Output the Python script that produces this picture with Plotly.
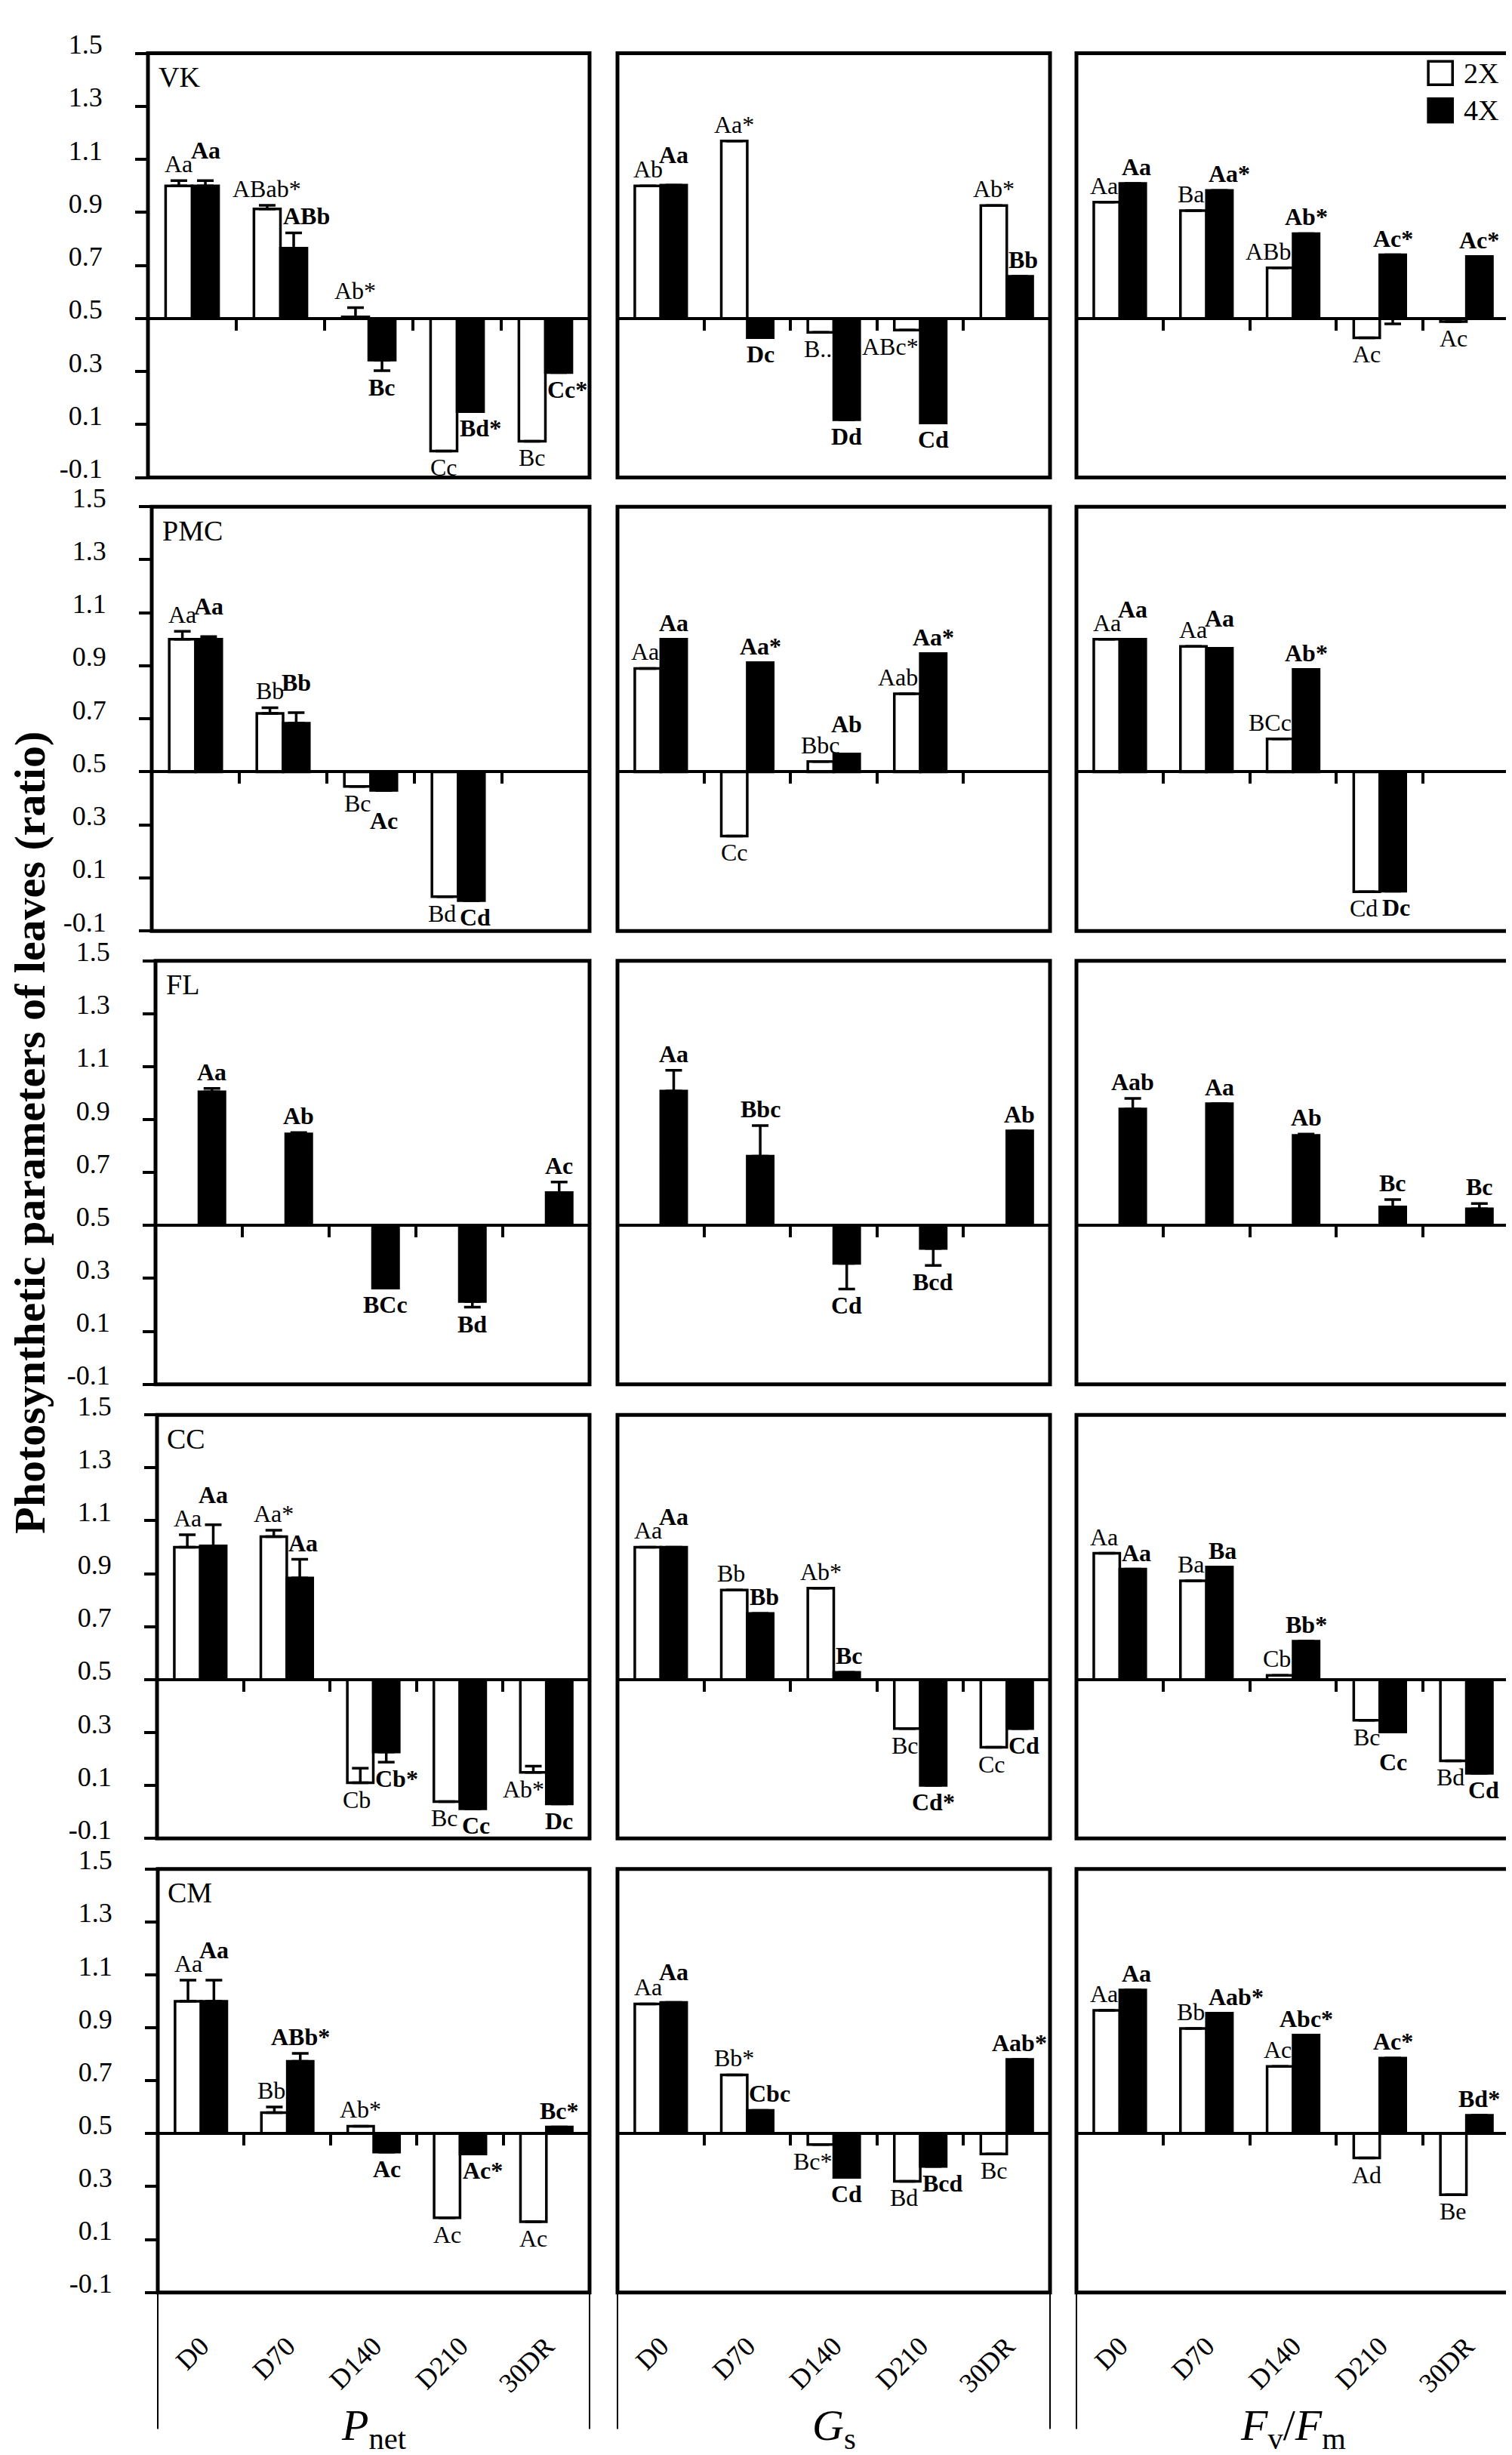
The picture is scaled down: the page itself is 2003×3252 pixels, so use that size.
"""
Photosynthetic parameters of leaves (ratio to D0) for five cultivars,
2X vs 4X, drought series D0..D210 plus 30 d rewatering (30DR).

Bars hang off a 0.5 baseline; letters above/below each bar are the
significance groups (2X regular, 4X bold). Writes out.html.
"""

import plotly.graph_objects as go

CATEGORIES = ["D0", "D70", "D140", "D210", "30DR"]
CULTIVARS = ["VK", "PMC", "FL", "CC", "CM"]
PARAM_TITLES = [
    "<i>P</i><sub>net</sub>",
    "<i>G</i><sub>s</sub>",
    "<i>F</i><sub>v</sub>/<i>F</i><sub>m</sub>",
]
Y_TICKVALS = [-0.1, 0.1, 0.3, 0.5, 0.7, 0.9, 1.1, 1.3, 1.5]
Y_TICKTEXT = ["-0.1", "0.1", "0.3", "0.5", "0.7", "0.9", "1.1", "1.3", "1.5"]

# Values. *_ERR is signed: + drawn upwards, - drawn downwards.
# ---- VK
VK_PNET_2X = [1.00, 0.913, 0.506, 0.0, 0.037]
VK_PNET_2X_ERR = [0.02, 0.014, 0.035, 0, 0]
VK_PNET_2X_LAB = ["Aa", "ABab*", "Ab*", "Cc", "Bc"]
VK_PNET_4X = [1.00, 0.765, 0.343, 0.149, 0.296]
VK_PNET_4X_ERR = [0.02, 0.058, -0.04, 0, 0]
VK_PNET_4X_LAB = ["Aa", "ABb", "Bc", "Bd*", "Cc*"]

VK_GS_2X = [1.00, 1.169, 0.448, 0.456, 0.926]
VK_GS_2X_ERR = [0, 0, 0, 0, 0]
VK_GS_2X_LAB = ["Ab", "Aa*", "B..", "ABc*", "Ab*"]
VK_GS_4X = [1.003, 0.428, 0.118, 0.106, 0.659]
VK_GS_4X_ERR = [0, 0, 0, 0, 0]
VK_GS_4X_LAB = ["Aa", "Dc", "Dd", "Cd", "Bb"]

VK_FV_2X = [0.939, 0.907, 0.691, 0.427, 0.488]
VK_FV_2X_ERR = [0, 0, 0, 0, 0]
VK_FV_2X_LAB = ["Aa", "Ba", "ABb", "Ac", "Ac"]
VK_FV_4X = [1.009, 0.983, 0.82, 0.74, 0.734]
VK_FV_4X_ERR = [0, 0, 0, -0.26, 0]
VK_FV_4X_LAB = ["Aa", "Aa*", "Ab*", "Ac*", "Ac*"]

# ---- PMC (no 30DR)
PMC_PNET_2X = [1.00, 0.72, 0.445, 0.029, None]
PMC_PNET_2X_ERR = [0.03, 0.022, 0, 0, 0]
PMC_PNET_2X_LAB = ["Aa", "Bb", "Bc", "Bd", ""]
PMC_PNET_4X = [1.00, 0.683, 0.43, 0.014, None]
PMC_PNET_4X_ERR = [0.01, 0.04, 0, 0, 0]
PMC_PNET_4X_LAB = ["Aa", "Bb", "Ac", "Cd", ""]

PMC_GS_2X = [0.89, 0.258, 0.539, 0.794, None]
PMC_GS_2X_ERR = [0, 0, 0, 0, 0]
PMC_GS_2X_LAB = ["Aa", "Cc", "Bbc", "Aab", ""]
PMC_GS_4X = [1.00, 0.912, 0.567, 0.946, None]
PMC_GS_4X_ERR = [0, 0, 0, 0, 0]
PMC_GS_4X_LAB = ["Aa", "Aa*", "Ab", "Aa*", ""]

PMC_FV_2X = [1.00, 0.973, 0.624, 0.048, None]
PMC_FV_2X_ERR = [0, 0, 0, 0, 0]
PMC_FV_2X_LAB = ["Aa", "Aa", "BCc", "Cd", ""]
PMC_FV_4X = [1.00, 0.966, 0.886, 0.05, None]
PMC_FV_4X_ERR = [0, 0, 0, 0, 0]
PMC_FV_4X_LAB = ["Aa", "Aa", "Ab*", "Dc", ""]

# ---- FL (4X only)
FL_PNET_2X = [None, None, None, None, None]
FL_PNET_2X_ERR = [0, 0, 0, 0, 0]
FL_PNET_2X_LAB = ["", "", "", "", ""]
FL_PNET_4X = [1.005, 0.846, 0.263, 0.213, 0.624]
FL_PNET_4X_ERR = [0.013, 0.005, 0, -0.022, 0.04]
FL_PNET_4X_LAB = ["Aa", "Ab", "BCc", "Bd", "Ac"]

FL_GS_2X = [None, None, None, None, None]
FL_GS_2X_ERR = [0, 0, 0, 0, 0]
FL_GS_2X_LAB = ["", "", "", "", ""]
FL_GS_4X = [1.008, 0.762, 0.357, 0.413, 0.857]
FL_GS_4X_ERR = [0.078, 0.115, -0.097, -0.064, 0]
FL_GS_4X_LAB = ["Aa", "Bbc", "Cd", "Bcd", "Ab"]

FL_FV_2X = [None, None, None, None, None]
FL_FV_2X_ERR = [0, 0, 0, 0, 0]
FL_FV_2X_LAB = ["", "", "", "", ""]
FL_FV_4X = [0.94, 0.96, 0.84, 0.57, 0.563]
FL_FV_4X_ERR = [0.04, 0, 0.005, 0.028, 0.02]
FL_FV_4X_LAB = ["Aab", "Aa", "Ab", "Bc", "Bc"]

# ---- CC
CC_PNET_2X = [1.00, 1.04, 0.11, 0.039, 0.149]
CC_PNET_2X_ERR = [0.047, 0.024, 0.055, 0, 0.024]
CC_PNET_2X_LAB = ["Aa", "Aa*", "Cb", "Bc", "Ab*"]
CC_PNET_4X = [1.005, 0.884, 0.226, 0.012, 0.03]
CC_PNET_4X_ERR = [0.08, 0.07, -0.038, 0, 0]
CC_PNET_4X_LAB = ["Aa", "Aa", "Cb*", "Cc", "Dc"]

CC_GS_2X = [1.00, 0.838, 0.845, 0.315, 0.244]
CC_GS_2X_ERR = [0, 0, 0, 0, 0]
CC_GS_2X_LAB = ["Aa", "Bb", "Ab*", "Bc", "Cc"]
CC_GS_4X = [1.00, 0.75, 0.527, 0.10, 0.315]
CC_GS_4X_ERR = [0, 0, 0, 0, 0]
CC_GS_4X_LAB = ["Aa", "Bb", "Bc", "Cd*", "Cd"]

CC_FV_2X = [0.977, 0.873, 0.516, 0.346, 0.193]
CC_FV_2X_ERR = [0, 0, 0, 0, 0]
CC_FV_2X_LAB = ["Aa", "Ba", "Cb", "Bc", "Bd"]
CC_FV_4X = [0.917, 0.925, 0.645, 0.302, 0.146]
CC_FV_4X_ERR = [0, 0, 0, 0, 0]
CC_FV_4X_LAB = ["Aa", "Ba", "Bb*", "Cc", "Cd"]

# ---- CM
CM_PNET_2X = [1.00, 0.579, 0.528, 0.182, 0.167]
CM_PNET_2X_ERR = [0.08, 0.022, 0, 0, 0]
CM_PNET_2X_LAB = ["Aa", "Bb", "Ab*", "Ac", "Ac"]
CM_PNET_4X = [1.00, 0.773, 0.43, 0.423, 0.525]
CM_PNET_4X_ERR = [0.08, 0.03, 0, 0, 0]
CM_PNET_4X_LAB = ["Aa", "ABb*", "Ac", "Ac*", "Bc*"]

CM_GS_2X = [0.99, 0.722, 0.459, 0.32, 0.423]
CM_GS_2X_ERR = [0, 0, 0, 0, 0]
CM_GS_2X_LAB = ["Aa", "Bb*", "Bc*", "Bd", "Bc"]
CM_GS_4X = [0.996, 0.588, 0.335, 0.376, 0.78]
CM_GS_4X_ERR = [0, 0, 0, 0, 0]
CM_GS_4X_LAB = ["Aa", "Cbc", "Cd", "Bcd", "Aab*"]

CM_FV_2X = [0.966, 0.897, 0.754, 0.408, 0.269]
CM_FV_2X_ERR = [0, 0, 0, 0, 0]
CM_FV_2X_LAB = ["Aa", "Bb", "Ac", "Ad", "Be"]
CM_FV_4X = [1.043, 0.955, 0.872, 0.785, 0.569]
CM_FV_4X_ERR = [0, 0, 0, 0, 0]
CM_FV_4X_LAB = ["Aa", "Aab*", "Abc*", "Ac*", "Bd*"]

# rows = cultivars, columns = Pnet / Gs / Fv/Fm
PANELS = [
    [(VK_PNET_2X, VK_PNET_2X_ERR, VK_PNET_2X_LAB, VK_PNET_4X, VK_PNET_4X_ERR, VK_PNET_4X_LAB),
     (VK_GS_2X, VK_GS_2X_ERR, VK_GS_2X_LAB, VK_GS_4X, VK_GS_4X_ERR, VK_GS_4X_LAB),
     (VK_FV_2X, VK_FV_2X_ERR, VK_FV_2X_LAB, VK_FV_4X, VK_FV_4X_ERR, VK_FV_4X_LAB)],
    [(PMC_PNET_2X, PMC_PNET_2X_ERR, PMC_PNET_2X_LAB, PMC_PNET_4X, PMC_PNET_4X_ERR, PMC_PNET_4X_LAB),
     (PMC_GS_2X, PMC_GS_2X_ERR, PMC_GS_2X_LAB, PMC_GS_4X, PMC_GS_4X_ERR, PMC_GS_4X_LAB),
     (PMC_FV_2X, PMC_FV_2X_ERR, PMC_FV_2X_LAB, PMC_FV_4X, PMC_FV_4X_ERR, PMC_FV_4X_LAB)],
    [(FL_PNET_2X, FL_PNET_2X_ERR, FL_PNET_2X_LAB, FL_PNET_4X, FL_PNET_4X_ERR, FL_PNET_4X_LAB),
     (FL_GS_2X, FL_GS_2X_ERR, FL_GS_2X_LAB, FL_GS_4X, FL_GS_4X_ERR, FL_GS_4X_LAB),
     (FL_FV_2X, FL_FV_2X_ERR, FL_FV_2X_LAB, FL_FV_4X, FL_FV_4X_ERR, FL_FV_4X_LAB)],
    [(CC_PNET_2X, CC_PNET_2X_ERR, CC_PNET_2X_LAB, CC_PNET_4X, CC_PNET_4X_ERR, CC_PNET_4X_LAB),
     (CC_GS_2X, CC_GS_2X_ERR, CC_GS_2X_LAB, CC_GS_4X, CC_GS_4X_ERR, CC_GS_4X_LAB),
     (CC_FV_2X, CC_FV_2X_ERR, CC_FV_2X_LAB, CC_FV_4X, CC_FV_4X_ERR, CC_FV_4X_LAB)],
    [(CM_PNET_2X, CM_PNET_2X_ERR, CM_PNET_2X_LAB, CM_PNET_4X, CM_PNET_4X_ERR, CM_PNET_4X_LAB),
     (CM_GS_2X, CM_GS_2X_ERR, CM_GS_2X_LAB, CM_GS_4X, CM_GS_4X_ERR, CM_GS_4X_LAB),
     (CM_FV_2X, CM_FV_2X_ERR, CM_FV_2X_LAB, CM_FV_4X, CM_FV_4X_ERR, CM_FV_4X_LAB)],
]

W, H = 2003, 3252
BASE = 0.5
Y_MIN, Y_MAX = -0.1, 1.5
BAR_W = 0.3
FONT = "Liberation Serif, Times New Roman, serif"
LABEL_SIZE = 32
BUMP_PX = 18

# panel boxes in page pixels (the scanned figure drifts a little to the right
# in the left column as you go down)
LEFT_COL_X0 = [188, 193, 198, 200, 201]
COL_PX = [(None, 773), (810, 1383), (1418, 1992)]
ROW_PX = [(32, 601), (640, 1209), (1249, 1817), (1858, 2426), (2467, 3035)]

# rough Times advance widths (em) to keep letters off each other
CHAR_EM = {"A": 0.72, "B": 0.67, "C": 0.69, "D": 0.72, "a": 0.47, "b": 0.53,
           "c": 0.44, "d": 0.53, "e": 0.44, "*": 0.5, ".": 0.25}


def sfx(idx: int) -> str:
    return "" if idx == 1 else str(idx)


def text_px(lab, bold):
    return sum(CHAR_EM.get(ch, 0.55) for ch in lab) * LABEL_SIZE * (1.05 if bold else 1.0)


def err_dict(errs):
    return dict(
        type="data", symmetric=False,
        array=[max(e, 0) for e in errs],
        arrayminus=[max(-e, 0) for e in errs],
        color="black", thickness=3.5, width=11,
    )


def label_end(v, e):
    up = v >= BASE
    return up, (v + max(e, 0) if up else v + min(e, 0))


def label_offsets(v2, e2, l2, v4, e4, l4, bar_px, px_per_unit):
    """(dx2, dy2, dx4, dy4) pixel nudges for the two letters of one group."""
    dx2 = dy2 = dx4 = dy4 = 0.0
    if v2 is None or v4 is None or not l2 or not l4:
        return dx2, dy2, dx4, dy4
    up2, end2 = label_end(v2, e2)
    up4, end4 = label_end(v4, e4)
    if up2 != up4:
        return dx2, dy2, dx4, dy4
    sign = 1 if up2 else -1
    d = (end4 - end2) * sign          # >0: 4X reaches further out
    spill2 = max(0.0, text_px(l2, False) / 2 - bar_px / 2 + 2)
    spill4 = max(0.0, text_px(l4, True) / 2 - bar_px / 2 + 2)
    if abs(d) < 0.045:
        # stack the bold letter a little further out, unless that leaves the box
        need = (LABEL_SIZE * 1.15 + BUMP_PX + 2) / px_per_unit
        room = (Y_MAX - end4) if up4 else (end4 - Y_MIN)
        if room > need:
            dy4 = BUMP_PX
        else:
            dx2, dx4 = -spill2, spill4
    elif d > 0:
        dx2 = -spill2
        if d < 0.09:
            dx4 = spill4
    else:
        dx4 = spill4
        if -d < 0.09:
            dx2 = -spill2
    return dx2, dy2, dx4, dy4


def main() -> None:
    fig = go.Figure()
    xs = list(range(len(CATEGORIES)))
    layout = {}
    annotations = []
    shapes = []

    for r, row in enumerate(PANELS):
        for c, (v2, e2, l2, v4, e4, l4) in enumerate(row):
            idx = r * 3 + c + 1
            xa, ya = f"x{sfx(idx)}", f"y{sfx(idx)}"
            x0_px = LEFT_COL_X0[r] if c == 0 else COL_PX[c][0]
            xdom = [x0_px / W, COL_PX[c][1] / W]
            ydom = [1 - ROW_PX[r][1] / H, 1 - ROW_PX[r][0] / H]
            base_pos = ydom[0] + (BASE - Y_MIN) / (Y_MAX - Y_MIN) * (ydom[1] - ydom[0])
            bar_px = (COL_PX[c][1] - x0_px) / len(CATEGORIES) * BAR_W
            px_per_unit = (ROW_PX[r][1] - ROW_PX[r][0]) / (Y_MAX - Y_MIN)

            nudges = [label_offsets(v2[i], e2[i], l2[i], v4[i], e4[i], l4[i], bar_px, px_per_unit)
                      for i in xs]

            for vals, errs, labs, fill, off, bold in (
                (v2, e2, l2, "white", -BAR_W, False),
                (v4, e4, l4, "black", 0.0, True),
            ):
                fig.add_trace(go.Bar(
                    x=xs,
                    y=[None if v is None else v - BASE for v in vals],
                    base=BASE, width=BAR_W, offset=off,
                    marker=dict(color=fill, line=dict(color="black", width=3.5)),
                    error_y=err_dict(errs),
                    xaxis=xa, yaxis=ya, showlegend=False,
                    name="4X" if bold else "2X",
                ))
                for i, (v, e, lab) in enumerate(zip(vals, errs, labs)):
                    if v is None or not lab:
                        continue
                    up, end = label_end(v, e)
                    dx, dy = (nudges[i][2], nudges[i][3]) if bold else (nudges[i][0], nudges[i][1])
                    shift = 2 + dy
                    annotations.append(dict(
                        x=i + off + BAR_W / 2, y=end, xref=xa, yref=ya,
                        text=f"<b>{lab}</b>" if bold else lab,
                        showarrow=False,
                        xanchor="center", yanchor="bottom" if up else "top",
                        xshift=dx, yshift=shift if up else -shift,
                        font=dict(family=FONT, size=LABEL_SIZE, color="black"),
                    ))

            layout[f"xaxis{sfx(idx)}"] = dict(
                domain=xdom, range=[-0.5, len(CATEGORIES) - 0.5],
                anchor="free", position=base_pos,
                showline=True, linecolor="black", linewidth=4,
                tickmode="array", tickvals=[i + 0.5 for i in xs[:-1]],
                ticks="outside", ticklen=14, tickwidth=4, tickcolor="black",
                showticklabels=False, showgrid=False, zeroline=False,
                fixedrange=True,
            )
            ydict = dict(
                domain=ydom, range=[Y_MIN, Y_MAX], anchor=xa,
                showline=False, showgrid=False, zeroline=False,
                tickmode="array", tickvals=Y_TICKVALS, ticktext=Y_TICKTEXT,
            )
            if c == 0:
                ydict.update(
                    ticks="outside", ticklen=16, tickwidth=4, tickcolor="black",
                    ticklabelstandoff=36, ticklabelshift=-12,
                    tickfont=dict(family=FONT, size=36, color="black"),
                )
            else:
                ydict.update(ticks="", showticklabels=False)
            layout[f"yaxis{sfx(idx)}"] = ydict

            # panel frame
            shapes.append(dict(
                type="rect", xref=f"{xa} domain", yref=f"{ya} domain",
                x0=0, x1=1, y0=0, y1=1, line=dict(color="black", width=5),
            ))

            if c == 0:
                annotations.append(dict(
                    x=0.02, y=0.985, xref=f"{xa} domain", yref=f"{ya} domain",
                    text=CULTIVARS[r], showarrow=False,
                    xanchor="left", yanchor="top",
                    font=dict(family=FONT, size=38, color="black"),
                ))

            # category labels under the bottom row (separate overlay axis)
            if r == len(PANELS) - 1:
                lab_ax = f"x{15 + c + 1}"
                layout[f"xaxis{15 + c + 1}"] = dict(
                    overlaying=xa, anchor=ya, side="bottom",
                    range=[-0.5, len(CATEGORIES) - 0.5],
                    tickmode="array", tickvals=xs, ticktext=CATEGORIES,
                    tickangle=-45, ticks="", showline=False, showgrid=False,
                    zeroline=False, ticklabelstandoff=42,
                    tickfont=dict(family=FONT, size=36, color="black"),
                )
                # invisible carrier so the label axis gets drawn
                fig.add_trace(go.Scatter(
                    x=xs, y=[BASE] * len(xs), xaxis=lab_ax, yaxis=ya,
                    mode="markers", marker=dict(opacity=0),
                    hoverinfo="skip", showlegend=False,
                ))
                low = 1 - 3218 / H
                for xd in (0, 1):
                    shapes.append(dict(
                        type="line", xref=f"{xa} domain", yref="paper",
                        x0=xd, x1=xd, y0=ydom[0], y1=low,
                        line=dict(color="black", width=2),
                    ))
                annotations.append(dict(
                    x=0.5, y=0, xref=f"{xa} domain", yref="paper",
                    text=PARAM_TITLES[c], showarrow=False,
                    xanchor="center", yanchor="bottom", yshift=-4,
                    font=dict(family=FONT, size=58, color="black"),
                ))

    # legend box in the top-right panel
    for (y0, y1), fill, name in (((0.926, 0.981), "white", "2X"), ((0.838, 0.893), "black", "4X")):
        shapes.append(dict(
            type="rect", xref="x3 domain", yref="y3 domain",
            x0=0.812, x1=0.868, y0=y0, y1=y1,
            fillcolor=fill, line=dict(color="black", width=3.5),
        ))
        annotations.append(dict(
            x=0.89, y=(y0 + y1) / 2, xref="x3 domain", yref="y3 domain",
            text=name, showarrow=False, xanchor="left", yanchor="middle",
            font=dict(family=FONT, size=38, color="black"),
        ))

    annotations.append(dict(
        x=32 / W, y=1 - 1480 / H, xref="paper", yref="paper",
        text="<b>Photosynthetic parameters of leaves (ratio)</b>",
        textangle=-90, showarrow=False, xanchor="center", yanchor="middle",
        font=dict(family=FONT, size=58, color="black"),
    ))

    fig.update_layout(
        **layout,
        barmode="overlay",
        width=W, height=H,
        margin=dict(l=0, r=0, t=0, b=0),
        paper_bgcolor="white", plot_bgcolor="white",
        font=dict(family=FONT, color="black"),
        annotations=annotations, shapes=shapes,
        showlegend=False,
    )

    fig.write_html("out.html")


if __name__ == "__main__":
    main()
